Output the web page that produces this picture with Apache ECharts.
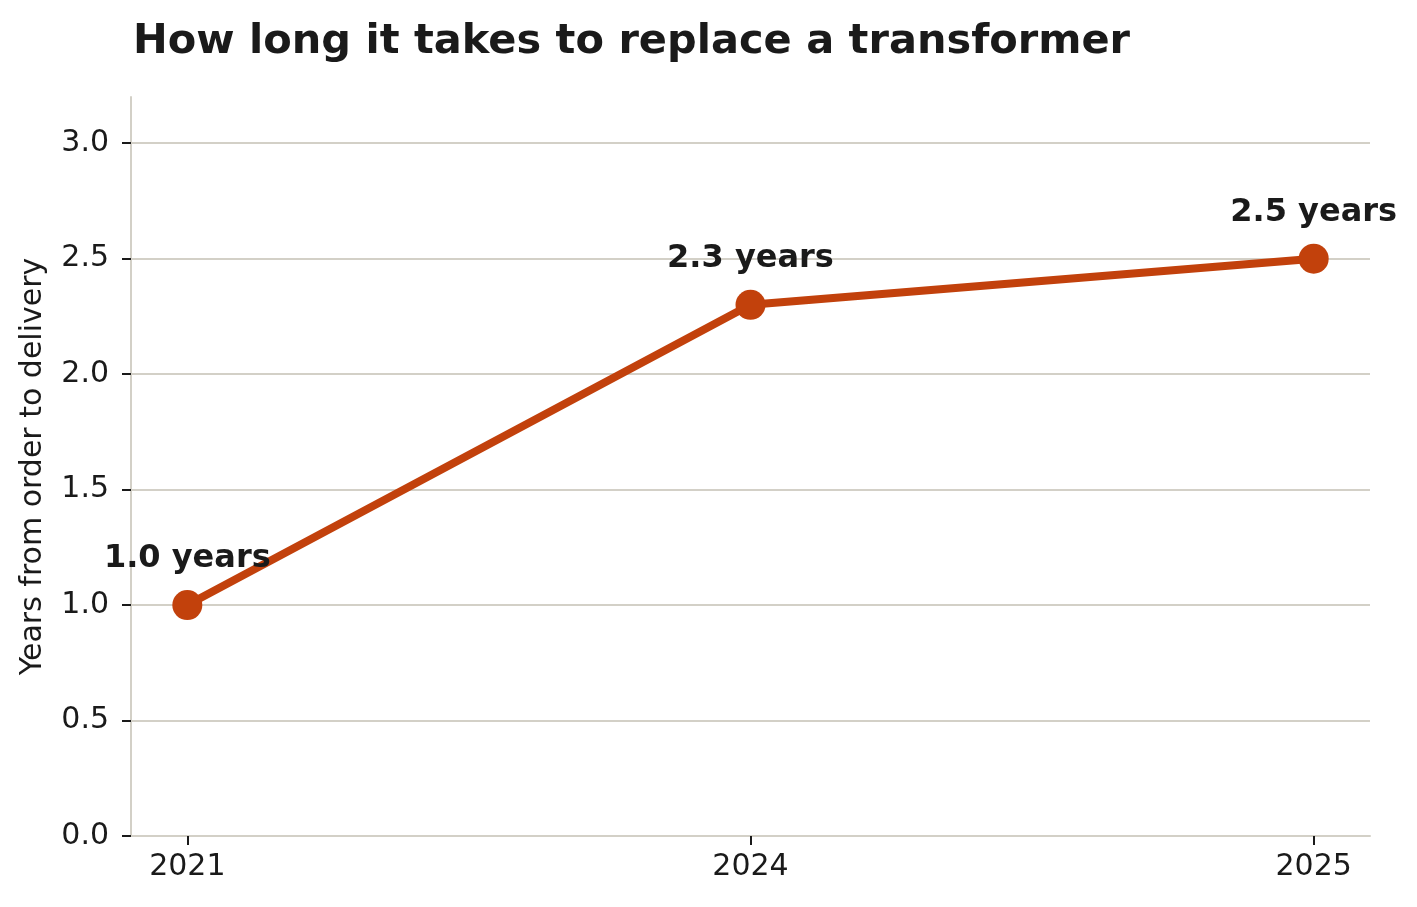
<!DOCTYPE html>
<html lang="en">
<head>
  <meta charset="UTF-8">
  <title>How long it takes to replace a transformer</title>
  <style>
    html, body { margin: 0; padding: 0; background: #ffffff; }
  </style>
</head>
<body>
  <script src="https://cdn.jsdelivr.net/npm/echarts@6/dist/echarts.min.js"></script>
  <div id="main" style="width: 1417px;height:907px;"></div>
  <script type="text/javascript">
      // data
      var years = ['2021', '2024', '2025'];
      var leadTimes = [1.0, 2.3, 2.5];
      var yTicks = [0, 0.5, 1.0, 1.5, 2.0, 2.5, 3.0];

      var ink = '#1a1a1a';
      var spine = '#d3d0c7';
      var lineColor = '#c2410c';
      var font = '"DejaVu Sans", sans-serif';

      // categories sit at 0,1,2 on a value axis so there is some padding at both ends
      var points = leadTimes.map(function (v, i) { return [i, v]; });

      var myChart = echarts.init(document.getElementById('main'));

      var option = {
        animation: false,
        textStyle: { fontFamily: font, color: ink },
        title: {
          text: 'How long it takes to replace a transformer',
          left: 128,
          top: 16,
          textStyle: { fontFamily: font, fontSize: 41.5, fontWeight: 'bold', color: ink }
        },
        grid: { left: 131, right: 47, top: 97, bottom: 71, outerBoundsMode: 'none' },
        xAxis: {
          type: 'value',
          min: -0.1,
          max: 2.1,
          axisLine: { show: true, onZero: false, lineStyle: { color: spine, width: 2 } },
          axisTick: { show: true, customValues: [0, 1, 2], length: 9, lineStyle: { color: ink, width: 2 } },
          axisLabel: {
            customValues: [0, 1, 2],
            margin: 16,
            fontSize: 30,
            color: ink,
            fontFamily: font,
            formatter: function (v) { return years[Math.round(v)]; }
          },
          splitLine: { show: false }
        },
        yAxis: {
          type: 'value',
          min: 0,
          max: 3.2,
          name: 'Years from order to delivery',
          nameLocation: 'middle',
          nameGap: 83,
          nameMoveOverlap: false,
          nameTextStyle: { fontSize: 30, color: ink, fontFamily: font },
          axisLine: { show: true, onZero: false, lineStyle: { color: spine, width: 2 } },
          axisTick: { show: true, customValues: yTicks, length: 9, lineStyle: { color: ink, width: 2 } },
          axisLabel: {
            customValues: yTicks,
            margin: 22,
            fontSize: 30,
            color: ink,
            fontFamily: font,
            formatter: function (v) { return v.toFixed(1); }
          },
          splitLine: { show: true, lineStyle: { color: spine, width: 2 } }
        },
        series: [{
          type: 'line',
          data: points,
          lineStyle: { color: lineColor, width: 8 },
          itemStyle: { color: lineColor },
          symbol: 'circle',
          symbolSize: 30,
          label: {
            show: true,
            position: 'top',
            distance: 15,
            fontSize: 32,
            fontWeight: 'bold',
            color: ink,
            fontFamily: font,
            formatter: function (p) { return p.value[1].toFixed(1) + ' years'; }
          }
        }]
      };

      myChart.setOption(option);
  </script>
</body>
</html>
